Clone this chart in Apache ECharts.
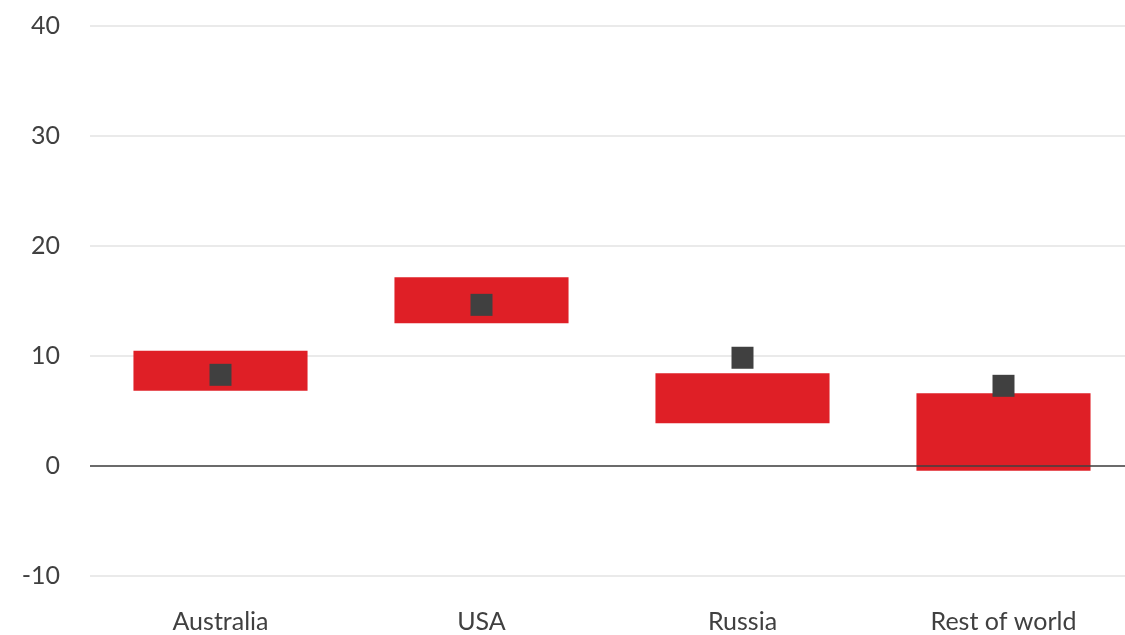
<!DOCTYPE html>
<html>
<head>
<meta charset="utf-8">
<script src="https://cdn.jsdelivr.net/npm/echarts@6/dist/echarts.min.js"></script>
<style>
  html, body { margin: 0; padding: 0; background: #ffffff; overflow: hidden; width: 1125px; height: 635px; }
  /* the plot area runs slightly past the right edge of the page */
  #chart { width: 1134px; height: 635px; }
</style>
</head>
<body>
<div id="chart"></div>
<script>
// Regions and their ranges (low / high) with a point estimate each
const categories = ['Australia', 'USA', 'Russia', 'Rest of world'];
const rangeLow = [6.85, 12.97, 3.88, -0.43];
const rangeHigh = [10.48, 17.15, 8.43, 6.61];
const pointValues = [8.29, 14.65, 9.84, 7.29];
const yTicks = { min: -10, max: 40, interval: 10 };

const rangeSpan = rangeHigh.map((h, i) => +(h - rangeLow[i]).toFixed(2));

const textColor = '#404040';
const fontFamily = 'Lato, "Open Sans", sans-serif';

const chart = echarts.init(document.getElementById('chart'), null, { renderer: 'canvas' });

chart.setOption({
  animation: false,
  backgroundColor: '#ffffff',
  grid: { left: 90, right: 0, top: 26, bottom: 59, containLabel: false },
  xAxis: {
    type: 'category',
    data: categories,
    axisLine: { show: false, onZero: false },
    axisTick: { show: false },
    splitLine: { show: false },
    axisLabel: {
      color: textColor,
      fontFamily: fontFamily,
      fontSize: 25,
      margin: 33
    }
  },
  yAxis: {
    type: 'value',
    min: yTicks.min,
    max: yTicks.max,
    interval: yTicks.interval,
    axisLine: { show: false },
    axisTick: { show: false },
    splitLine: { lineStyle: { color: '#e3e3e3', width: 1.5 } },
    axisLabel: {
      color: textColor,
      fontFamily: fontFamily,
      fontSize: 25,
      margin: 30
    }
  },
  series: [
    {
      name: 'base',
      type: 'bar',
      stack: 'range',
      stackStrategy: 'all',
      data: rangeLow,
      barWidth: '66.7%',
      itemStyle: { color: 'transparent' },
      silent: true,
      z: 2
    },
    {
      name: 'range',
      type: 'bar',
      stack: 'range',
      stackStrategy: 'all',
      data: rangeSpan,
      barWidth: '66.7%',
      itemStyle: { color: '#df1f26' },
      z: 2
    },
    {
      name: 'estimate',
      type: 'scatter',
      data: pointValues,
      symbol: 'rect',
      symbolSize: 22,
      itemStyle: { color: '#404040', opacity: 1 },
      z: 5,
      markLine: {
        silent: true,
        symbol: 'none',
        label: { show: false },
        lineStyle: { color: '#404040', width: 1.5, type: 'solid' },
        data: [{ yAxis: 0 }]
      }
    }
  ]
});
</script>
</body>
</html>
